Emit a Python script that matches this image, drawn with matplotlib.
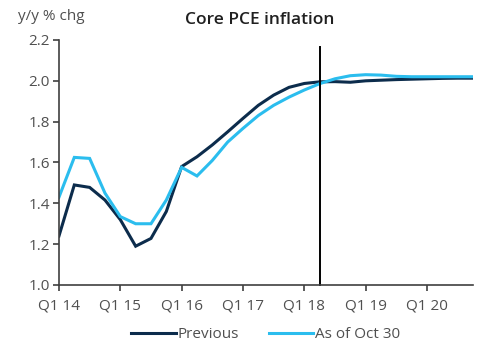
import matplotlib
matplotlib.use("Agg")
import matplotlib.pyplot as plt
import numpy as np

plt.rcParams['font.family'] = ['Open Sans', 'DejaVu Sans']

quarters = list(range(28))  # Q1 14 .. Q4 20
tick_positions = [0, 4, 8, 12, 16, 20, 24]
tick_labels = ["Q1 14", "Q1 15", "Q1 16", "Q1 17", "Q1 18", "Q1 19", "Q1 20"]

previous = [1.24, 1.49, 1.478, 1.416, 1.32, 1.19, 1.228, 1.36, 1.58,
            1.628, 1.686, 1.75, 1.816, 1.88, 1.93, 1.968, 1.987, 1.995,
            1.996, 1.993, 2.0, 2.003, 2.006, 2.008, 2.01, 2.012, 2.013, 2.013]
as_of_oct30 = [1.43, 1.625, 1.62, 1.45, 1.335, 1.30, 1.30, 1.416, 1.576,
               1.534, 1.61, 1.70, 1.767, 1.83, 1.88, 1.92, 1.955, 1.986,
               2.01, 2.025, 2.03, 2.028, 2.022, 2.02, 2.02, 2.02, 2.02, 2.02]
forecast_start = 17

dark = "#0c2c4c"
light = "#2bbdee"
gray = "#505050"

fig = plt.figure(figsize=(5.04, 3.57), dpi=100)
ax = fig.add_axes([0.117, 0.2017, 0.8215, 0.6863])

ax.plot(quarters, previous, color=dark, lw=2.2, label="Previous", solid_joinstyle='miter')
ax.plot(quarters, as_of_oct30, color=light, lw=2.2, label="As of Oct 30", solid_joinstyle='miter')
ax.plot([forecast_start, forecast_start], [1.0, 2.165], color="black", lw=1.4, clip_on=False)

ax.set_xlim(0, 27)
ax.set_ylim(1.0, 2.2)
ax.set_yticks(np.arange(1.0, 2.21, 0.2))
ax.set_yticklabels([f"{v:.1f}" for v in np.arange(1.0, 2.21, 0.2)])
ax.set_xticks(tick_positions)
ax.set_xticklabels(tick_labels)

for s in ["top", "right"]:
    ax.spines[s].set_visible(False)
for s in ["left", "bottom"]:
    ax.spines[s].set_color("#404040")
    ax.spines[s].set_linewidth(1.2)
ax.tick_params(axis='both', colors="#404040", labelcolor=gray, labelsize=11,
               length=4, width=1.2, direction='out')
ax.tick_params(axis='x', pad=6)
ax.tick_params(axis='y', pad=2.5)

fig.text(0.515, 0.943, "Core PCE inflation", ha='center', va='center',
         fontsize=12.5, fontweight='semibold', color="#202020")
fig.text(0.036, 0.955, "y/y % chg", ha='left', va='center', fontsize=11, color=gray)

leg = fig.legend(loc='center', bbox_to_anchor=(0.527, 0.062), ncol=2, frameon=False,
                 fontsize=11, handlelength=2.9, handletextpad=0.1, columnspacing=2.0,
                 labelcolor=gray)

fig.savefig("out.png", dpi=100)
